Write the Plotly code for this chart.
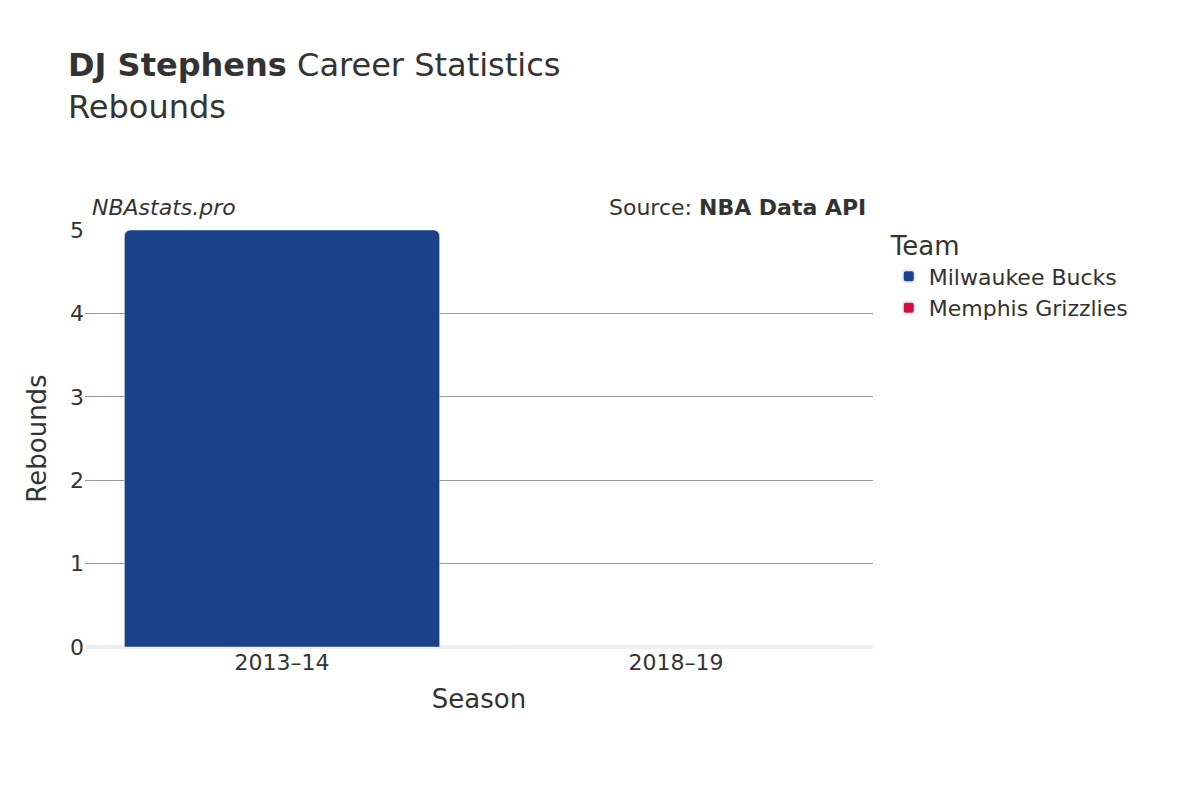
import plotly.graph_objects as go

seasons = ["2013–14", "2018–19"]
bucks = [5, None]
grizzlies = [None, 0]

fig = go.Figure()
fig.add_bar(x=seasons, y=bucks, name="Milwaukee Bucks", marker_color="#1b4288", width=0.8)
fig.add_bar(x=seasons, y=grizzlies, name="Memphis Grizzlies", marker_color="#ce1141", width=0.8)

fig.update_layout(
    width=1200, height=800, barmode="overlay", barcornerradius=6,
    plot_bgcolor="white", paper_bgcolor="white",
    font=dict(family="DejaVu Sans", color="#333", size=20),
    title=dict(text="<b>DJ Stephens</b> Career Statistics<br>Rebounds", x=0.05, xanchor="left", y=0.915, yanchor="top", font=dict(size=32)),
    margin=dict(l=77, r=335, t=222, b=161),
    xaxis=dict(title=dict(text="Season", font=dict(size=26)), showline=False, ticks="", tickfont=dict(size=22)),
    yaxis=dict(title=dict(text="Rebounds", font=dict(size=26)), range=[0, 5], gridcolor="#999", zeroline=True, zerolinecolor="#eee", zerolinewidth=4, tickfont=dict(size=22), dtick=1),
    legend=dict(title=dict(text="Team", font=dict(size=26)), x=1.02, y=1.02, yanchor="top", font=dict(size=22), itemsizing="constant"),
    annotations=[
        dict(text="<i>NBAstats.pro</i>", xref="paper", yref="paper", x=0.006, y=1.02, xanchor="left", yanchor="bottom", showarrow=False, font=dict(size=22)),
        dict(text="Source: <b>NBA Data API</b>", xref="paper", yref="paper", x=0.994, y=1.02, xanchor="right", yanchor="bottom", showarrow=False, font=dict(size=22)),
    ],
)
fig.write_html("out.html")
